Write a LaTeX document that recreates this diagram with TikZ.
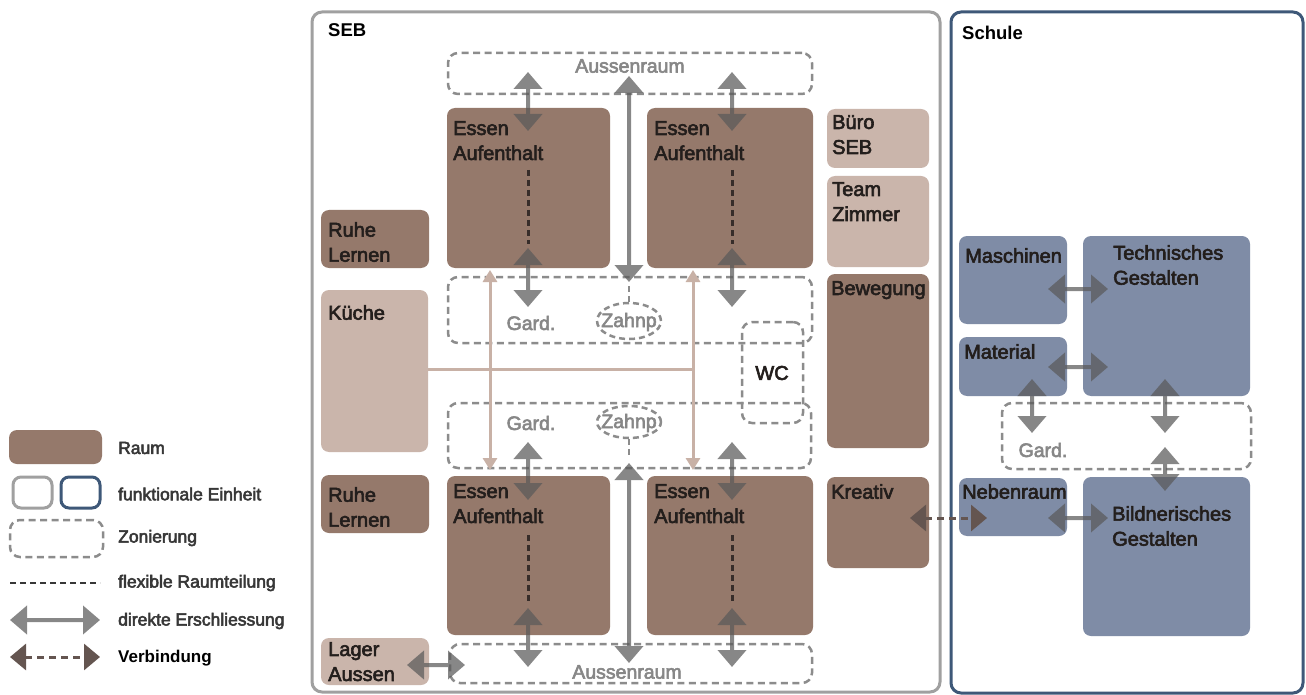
\documentclass[tikz,border=0pt]{standalone}
\usepackage{fontspec}
\setmainfont{Liberation Sans}
\newfontface\medfont{Liberation Sans}[FakeBold=3]
\usetikzlibrary{arrows.meta,shapes.geometric,fit}
\definecolor{raum}{RGB}{149,121,107}
\definecolor{lraum}{RGB}{202,181,171}
\definecolor{lline}{RGB}{200,177,166}
\definecolor{braum}{RGB}{127,140,166}
\definecolor{framegray}{RGB}{160,160,160}
\definecolor{frameblue}{RGB}{62,88,120}
\definecolor{zonegray}{RGB}{140,140,140}
\definecolor{accgray}{RGB}{90,90,90}
\definecolor{flexc}{RGB}{55,45,42}
\definecolor{verbc}{RGB}{100,85,80}
\definecolor{txt}{RGB}{35,30,28}
\definecolor{gtxt}{RGB}{135,135,135}
\definecolor{legtxt}{RGB}{55,55,55}
\newcommand\accarrow[2]{\begin{scope}[transparency group, opacity=0.72]\draw[acc] #1 -- #2;\end{scope}}
\begin{document}
\begin{tikzpicture}[x=1pt,y=-1pt,
  lbl/.style={anchor=north west, align=left, inner sep=0, text=txt, font=\medfont\fontsize{20}{25}\selectfont},
  legl/.style={anchor=west, inner sep=0, text=legtxt, font=\medfont\fontsize{17.5}{21}\selectfont},
  room/.style={fill=raum, rounded corners=8, inner sep=0},
  lroom/.style={fill=lraum, rounded corners=8, inner sep=0},
  broom/.style={fill=braum, rounded corners=8, inner sep=0},
  zone/.style={draw=zonegray, line width=2.5, dash pattern=on 7 off 4.5, rounded corners=10, inner sep=0},
  ztxt/.style={text=gtxt, font=\medfont\fontsize{19.5}{23}\selectfont, inner sep=0},
  acc/.style={draw=accgray, line width=4, {Triangle[width=28,length=17]}-{Triangle[width=28,length=17]}},
  lacc/.style={draw=lline, line width=3, {Triangle[width=14,length=12]}-{Triangle[width=14,length=12]}},
  lline/.style={draw=lline, line width=3},
  flex/.style={draw=flexc, line width=3, dash pattern=on 6 off 4},
  verb/.style={draw=verbc, line width=3, dash pattern=on 7 off 5, {Triangle[width=26,length=16]}-{Triangle[width=26,length=16]}},
  frame/.style={line width=3, rounded corners=10, inner sep=0}
]
\fill[white] (0,0) rectangle (1306,695);
\useasboundingbox (0,0) rectangle (1306,695);

% frames
\node[frame, draw=framegray, fit={(312,12)(940,692)}] (seb) {};
\node[frame, draw=frameblue, fit={(951,12)(1303,693)}] (schule) {};
\node[anchor=north west, inner sep=0, font=\bfseries\fontsize{18.5}{22}\selectfont] (sebt) at (328,23) {SEB};
\node[anchor=north west, inner sep=0, font=\bfseries\fontsize{18.5}{22}\selectfont] (schulet) at (962,26) {Schule};

% zones
\node[zone, fit={(448,53)(812,94)}] (za1) {};
\node[zone, fit={(448,277)(812,343)}] (zg1) {};
\node[zone, fit={(448,403)(811,468)}] (zg2) {};
\node[zone, fit={(450,644)(812,683)}] (za2) {};
\node[zone, fit={(742,322)(803,423)}] (wc) {};
\node[zone, fit={(1002,403)(1251,469)}] (zs) {};
\node[ellipse, draw=zonegray, fill=white, line width=2.5, dash pattern=on 6 off 4, minimum width=64, minimum height=36, inner sep=0] (zh1) at (629,321) {};
\node[ellipse, draw=zonegray, fill=white, line width=2.5, dash pattern=on 6 off 4, minimum width=64, minimum height=32, inner sep=0] (zh2) at (629,422) {};
\draw[draw=zonegray, line width=2.5, dash pattern=on 6 off 4] (zh1.north) -- ++(0,-17);
\draw[draw=zonegray, line width=2.5, dash pattern=on 6 off 4] (zh2.south) -- ++(0,18);

\node[ztxt] (za1t) at (630,66) {Aussenraum};
\node[ztxt] (za2t) at (627,672) {Aussenraum};
\node[ztxt] (zg1t) at (531,323) {Gard.};
\node[ztxt] (zg2t) at (531,423) {Gard.};
\node[ztxt] (zst) at (1043,450) {Gard.};
\node[ztxt] (zh1t) at (629,322) {Zahnp};
\node[ztxt] (zh2t) at (629,423) {Zahnp};
\node[inner sep=0, text=txt, font=\medfont\fontsize{20}{25}\selectfont] (wct) at (772,373) {WC};

% rooms SEB
\node[room, fit={(447,108)(610,268)}] (e1) {};
\node[room, fit={(647,108)(813,268)}] (e2) {};
\node[room, fit={(447,476)(610,635)}] (e3) {};
\node[room, fit={(647,476)(813,635)}] (e4) {};
\node[room, fit={(321,210)(429,268)}] (rl1) {};
\node[lroom, fit={(321,290)(428,452)}] (kue) {};
\node[room, fit={(321,475)(429,533)}] (rl2) {};
\node[lroom, fit={(321,638)(429,685)}] (lag) {};
\node[lroom, fit={(827,109)(929,168)}] (buero) {};
\node[lroom, fit={(827,176)(929,267)}] (team) {};
\node[room, fit={(827,274)(929,448)}] (bew) {};
\node[room, fit={(827,477)(929,568)}] (krea) {};
% rooms Schule
\node[broom, fit={(959,236)(1067,324)}] (masch) {};
\node[broom, fit={(1083,236)(1250,396)}] (tech) {};
\node[broom, fit={(959,337)(1067,396)}] (mat) {};
\node[broom, fit={(959,478)(1067,536)}] (neben) {};
\node[broom, fit={(1083,477)(1250,636)}] (bild) {};

% labels
\node[lbl] (e1t) at (453,121) {Essen\\Aufenthalt};
\node[lbl] (e2t) at (654,121) {Essen\\Aufenthalt};
\node[lbl] (e3t) at (453,484) {Essen\\Aufenthalt};
\node[lbl] (e4t) at (654,484) {Essen\\Aufenthalt};
\node[lbl] (rl1t) at (328,222) {Ruhe\\Lernen};
\node[lbl] (kuet) at (328,305) {Küche};
\node[lbl] (rl2t) at (328,487) {Ruhe\\Lernen};
\node[lbl] (lagt) at (328,642) {Lager\\Aussen};
\node[lbl] (buerot) at (832,115) {Büro\\SEB};
\node[lbl] (teamt) at (832,182) {Team\\Zimmer};
\node[lbl] (bewt) at (831,281) {Bewegung};
\node[lbl] (kreat) at (831,484) {Kreativ};
\node[lbl] (mascht) at (965,248) {Maschinen};
\node[lbl] (techt) at (1113,245) {Technisches\\Gestalten};
\node[lbl] (matt) at (964,344) {Material};
\node[lbl] (nebent) at (962,484) {Nebenraum};
\node[lbl] (bildt) at (1112,506) {Bildnerisches\\Gestalten};

% light brown connections
\coordinate (k1) at (490,369);
\coordinate (k2) at (693,369);
\draw[lline] (kue.east |- k1) -- (k2);
\draw[lacc] (490,270) -- (490,470);
\draw[lacc] (693,270) -- (693,470);

% flexible partitions
\draw[flex] (528,170) -- (528,244);
\draw[flex] (732,170) -- (732,244);
\draw[flex] (528,535) -- (528,604);
\draw[flex] (732,535) -- (732,604);

% direct access arrows SEB
\accarrow{(528,72)}{(528,131)}
\accarrow{(732,72)}{(732,131)}
\accarrow{(629,76)}{(629,282)}
\accarrow{(528,248)}{(528,307)}
\accarrow{(732,248)}{(732,307)}
\accarrow{(528,442)}{(528,500)}
\accarrow{(732,442)}{(732,500)}
\accarrow{(629,463)}{(629,663)}
\accarrow{(528,608)}{(528,667)}
\accarrow{(732,608)}{(732,667)}
\accarrow{(407,665)}{(465,665)}

% Schule arrows
\accarrow{(1048,289)}{(1108,289)}
\accarrow{(1048,367)}{(1108,367)}
\accarrow{(1032,379)}{(1032,433)}
\accarrow{(1165,379)}{(1165,433)}
\accarrow{(1165,447)}{(1165,491)}
\accarrow{(1048,518)}{(1108,518)}
\draw[verb] (910,518) -- (987,518);

% legend
\node[room, fit={(9,430)(102,464)}] (lg1) {};
\node[frame, draw=framegray, rounded corners=8, fit={(13,477)(52,508)}] (lg2a) {};
\node[frame, draw=frameblue, rounded corners=8, fit={(61,477)(100,508)}] (lg2b) {};
\node[zone, fit={(10,520)(103,557)}] (lg3) {};
\coordinate (lg4a) at (10,583); \coordinate (lg4b) at (100,583);
\draw[flex, draw=legtxt, line width=2.5] (lg4a) -- (lg4b);
\coordinate (lg5a) at (10,620); \coordinate (lg5b) at (100,620);
\accarrow{(lg5a)}{(lg5b)}
\coordinate (lg6a) at (10,657); \coordinate (lg6b) at (100,657);
\draw[verb] (lg6a) -- (lg6b);
\node[legl] at (118,448) {Raum};
\node[legl] at (118,494) {funktionale Einheit};
\node[legl] at (118,538) {Zonierung};
\node[legl] at (118,583) {flexible Raumteilung};
\node[legl] at (118,621) {direkte Erschliessung};
\node[legl, text=black, font=\bfseries\fontsize{17}{21}\selectfont] at (118,658) {Verbindung};
\end{tikzpicture}
\end{document}
